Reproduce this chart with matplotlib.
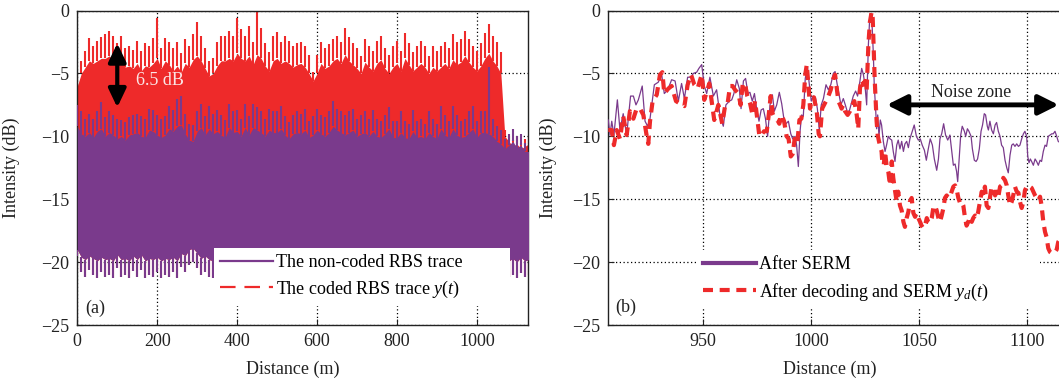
import numpy as np
import matplotlib
matplotlib.use("Agg")
import matplotlib.pyplot as plt
from matplotlib.lines import Line2D

plt.rcParams['font.family'] = ['Liberation Serif', 'DejaVu Serif']
plt.rcParams['mathtext.fontset'] = 'custom'
plt.rcParams['mathtext.rm'] = 'Liberation Serif'
plt.rcParams['mathtext.it'] = 'Liberation Serif:italic'
plt.rcParams['font.size'] = 13

PURPLE = '#7a3a8c'
RED = '#ee2a2a'

# ---- (a) raw RBS traces, read as envelopes every 10 m ----
dist_a = np.arange(0, 1131, 10)

# spike tops of the coded trace
coded_top = [
    -5.0, -4.0, -3.2, -2.2, -2.8, -2.4, -2.1, -1.9, -1.6, -2.0,
    -2.6, -2.0, -3.0, -2.8, -3.1, -2.4, -3.2, -2.6, -2.8, -2.2,
    -0.6, -3.0, -2.2, -2.5, -3.0, -2.5, -3.4, -2.3, -2.8, -1.9,
    -0.9, -2.0, -3.0, -4.0, -3.8, -2.5, -2.0, -2.0, -1.6, -2.0,
    -0.6, -1.5, -2.0, -1.2, -2.5, -0.1, -1.4, -2.6, -3.3, -2.0,
    -1.7, -2.5, -2.0, -2.4, -2.8, -2.6, -2.5, -2.8, -3.5, -4.9,
    -3.5, -2.5, -3.0, -2.7, -2.3, -2.0, -2.5, -1.4, -2.1, -2.6,
    -3.0, -3.6, -2.3, -2.8, -3.2, -2.4, -2.0, -3.0, -3.5, -2.8,
    -2.4, -3.2, -1.8, -2.6, -3.3, -2.8, -2.4, -2.8, -3.6, -2.8,
    -3.2, -2.8, -2.5, -3.0, -1.9, -2.5, -2.3, -1.6, -2.3, -2.8,
    -3.2, -2.6, -1.8, -1.1, -2.0, -2.5, -3.3, -9.5, -10.0, -10.3,
    -10.0, -10.5, -10.2, -10.0,
]
# level below which the coded trace looks solid
coded_base = [
    -6.0, -5.0, -4.5, -4.0, -4.2, -4.0, -3.8, -3.8, -3.6, -4.0,
    -4.2, -4.0, -4.5, -4.4, -4.6, -4.2, -4.8, -4.4, -4.5, -4.2,
    -3.8, -4.6, -4.0, -4.3, -4.8, -4.4, -4.9, -4.2, -4.5, -3.9,
    -3.6, -4.0, -4.6, -5.2, -5.0, -4.4, -4.0, -4.0, -3.8, -4.0,
    -3.4, -3.8, -4.0, -3.6, -4.3, -3.5, -3.8, -4.4, -4.8, -4.0,
    -3.8, -4.2, -4.0, -4.2, -4.5, -4.3, -4.2, -4.5, -5.0, -5.6,
    -5.0, -4.2, -4.6, -4.4, -4.0, -3.8, -4.2, -3.5, -4.0, -4.3,
    -4.6, -5.0, -4.1, -4.5, -4.8, -4.2, -3.9, -4.6, -5.0, -4.5,
    -4.2, -4.8, -3.8, -4.3, -4.8, -4.5, -4.2, -4.5, -5.0, -4.5,
    -4.8, -4.5, -4.2, -4.6, -3.9, -4.3, -4.1, -3.6, -4.1, -4.5,
    -4.8, -4.4, -3.8, -3.4, -4.0, -4.4, -5.0, -10.0, -10.4, -10.8,
    -10.6, -11.0, -10.8, -10.6,
]

noncoded_top = [
    -7.5, -8.0, -8.6, -8.2, -8.6, -8.0, -7.3, -8.5, -8.0, -8.3,
    -8.6, -8.7, -8.9, -8.5, -8.3, -8.2, -8.4, -8.6, -7.8, -7.9,
    -8.3, -8.6, -8.4, -7.6, -7.9, -7.0, -6.8, -8.2, -9.0, -9.1,
    -8.0, -7.4, -8.4, -7.6, -8.2, -7.9, -8.3, -8.7, -7.4, -8.0,
    -7.9, -8.6, -7.4, -8.4, -7.4, -7.7, -8.0, -8.6, -7.8, -8.0,
    -8.0, -7.6, -8.4, -8.9, -8.3, -8.0, -8.2, -7.8, -8.8, -8.4,
    -7.8, -8.3, -8.5, -8.0, -7.2, -7.8, -8.0, -8.3, -8.0, -7.8,
    -8.6, -8.3, -8.0, -8.6, -7.9, -8.6, -8.8, -8.3, -7.7, -8.8,
    -8.8, -8.0, -8.8, -9.0, -7.9, -8.8, -8.6, -9.0, -8.0, -8.6,
    -9.0, -7.6, -8.3, -8.8, -7.6, -8.3, -8.8, -8.6, -8.0, -7.6,
    -8.8, -8.0, -8.0, -4.5, -8.6, -9.2, -9.5, -10.2, -9.8, -9.4,
    -10.0, -9.8, -10.5, -10.5,
]
noncoded_base = [
    -9.2, -9.8, -10.0, -9.7, -10.1, -9.6, -9.4, -10.0, -9.7, -9.9,
    -10.2, -10.0, -10.3, -9.9, -9.8, -9.7, -10.0, -10.1, -9.5, -9.6,
    -9.9, -10.1, -9.9, -9.4, -9.6, -9.2, -9.1, -9.8, -10.3, -10.4,
    -9.6, -9.3, -9.9, -9.4, -9.8, -9.6, -9.9, -10.1, -9.3, -9.7,
    -9.6, -10.0, -9.3, -9.9, -9.3, -9.5, -9.7, -10.0, -9.5, -9.7,
    -9.7, -9.4, -9.9, -10.2, -9.8, -9.7, -9.8, -9.5, -10.1, -9.9,
    -9.5, -9.8, -10.0, -9.7, -9.2, -9.5, -9.7, -9.9, -9.7, -9.5,
    -10.0, -9.8, -9.7, -10.0, -9.6, -10.0, -10.1, -9.8, -9.4, -10.1,
    -10.1, -9.7, -10.1, -10.2, -9.6, -10.1, -10.0, -10.2, -9.7, -10.0,
    -10.2, -9.4, -9.9, -10.1, -9.4, -9.9, -10.1, -10.0, -9.7, -9.4,
    -10.1, -9.7, -9.7, -9.8, -10.0, -10.4, -10.6, -11.0, -10.7, -10.4,
    -10.9, -10.7, -11.2, -11.2,
]

# lower edge: solid level and the deepest dips
floor_solid = [
    -19.0, -19.6, -19.8, -19.5, -19.7, -19.9, -19.6, -19.8, -19.7, -19.9,
    -19.4, -19.8, -19.7, -19.9, -19.5, -19.8, -19.4, -19.9, -19.7, -19.8,
    -19.6, -19.9, -19.7, -19.8, -19.6, -19.9, -19.3, -19.5, -19.0, -18.9,
    -19.3, -19.7, -19.5, -19.8, -19.9, -19.8, -19.7, -19.8, -19.9, -19.7,
    -19.8, -19.7, -19.9, -19.8, -19.7, -19.8, -19.9, -19.8, -19.7, -19.8,
    -19.8, -19.7, -19.9, -19.8, -19.7, -19.8, -19.9, -19.8, -19.7, -19.8,
    -19.8, -19.7, -19.9, -19.8, -19.7, -19.8, -19.9, -19.8, -19.7, -19.8,
    -19.8, -19.7, -19.9, -19.8, -19.7, -19.8, -19.9, -19.8, -19.7, -19.8,
    -19.8, -19.7, -19.9, -19.8, -19.7, -19.8, -19.9, -19.8, -19.7, -19.8,
    -19.8, -19.7, -19.9, -19.8, -19.7, -19.8, -19.9, -19.8, -19.7, -19.8,
    -19.8, -19.7, -19.9, -19.8, -19.7, -19.8, -19.9, -19.8, -19.9, -19.7,
    -20.0, -19.6, -19.9, -19.8,
]
noise_floor = [
    -19.5, -20.8, -21.2, -20.6, -21.0, -21.3, -20.8, -21.2, -21.0, -21.3,
    -20.5, -21.2, -21.0, -21.3, -20.7, -21.2, -20.6, -21.3, -21.0, -21.2,
    -20.8, -21.3, -21.0, -21.2, -20.8, -21.3, -20.4, -20.8, -20.2, -20.0,
    -20.5, -21.0, -20.8, -21.2, -21.3, -21.0, -21.1, -20.9, -21.0, -21.2,
    -21.0, -20.9, -21.1, -21.0, -21.2, -21.0, -20.9, -21.1, -21.0, -21.2,
    -21.0, -20.9, -21.1, -21.0, -21.2, -21.0, -20.9, -21.1, -21.0, -21.2,
    -21.0, -20.9, -21.1, -21.0, -21.2, -21.0, -20.9, -21.1, -21.0, -21.2,
    -21.0, -20.9, -21.1, -21.0, -21.2, -21.0, -20.9, -21.1, -21.0, -21.2,
    -21.0, -20.9, -21.1, -21.0, -21.2, -21.0, -20.9, -21.1, -21.0, -21.2,
    -21.0, -20.9, -21.1, -21.0, -21.2, -21.0, -20.9, -21.1, -21.0, -21.2,
    -21.0, -20.9, -21.1, -21.0, -21.2, -21.0, -20.9, -21.1, -21.2, -21.0,
    -21.3, -20.9, -21.2, -21.0,
]

# ---- (b) zoom on fibre end, after SERM ----
serm_x = [
    906.3, 907.1, 907.9, 908.9, 910.5, 911.7, 913.2, 914.8, 916.6, 917.9,
    919.1, 920.2, 922.0, 923.3, 924.5, 925.6, 927.6, 929.4, 931.0, 932.2,
    933.8, 935.6, 937.2, 938.7, 940.2, 941.5, 943.0, 944.6, 945.6, 947.2,
    948.2, 949.5, 950.7, 951.8, 953.3, 954.9, 956.4, 958.0,
    959.5, 960.7, 962.3, 963.4, 964.4, 965.7, 966.9, 967.7, 968.8, 969.8,
    970.9, 971.8, 972.9, 973.9, 974.9, 976.0, 977.0, 978.0, 979.0, 980.0,
    981.1, 982.2, 983.1, 984.2, 985.4, 986.5, 987.6, 988.5, 989.6, 990.7,
    991.6, 992.7, 993.4, 994.2, 995.0, 995.7, 996.5, 997.4, 998.4, 999.3,
    1000.2, 1001.1, 1002.1, 1003.0, 1003.9, 1004.8, 1005.8, 1007.0, 1008.1, 1009.2,
    1010.4, 1011.2, 1012.2,
    1013.9, 1015.0, 1016.1, 1017.3, 1018.5, 1019.6, 1020.7, 1021.6, 1022.7, 1023.5,
    1024.3, 1025.0, 1025.8, 1026.6, 1027.3, 1028.1, 1028.9, 1029.3, 1030.0, 1030.4,
    1030.9, 1031.5, 1032.1, 1032.7, 1033.5, 1034.3, 1035.0, 1035.8, 1036.6, 1037.4,
    1038.1, 1038.9, 1039.7, 1040.4, 1041.2, 1042.0, 1042.8, 1043.5, 1044.3, 1045.1,
    1045.8, 1046.9, 1047.8, 1048.8, 1049.7, 1050.6, 1051.5, 1052.5, 1053.4, 1054.3,
    1055.2, 1056.2, 1057.1, 1058.2, 1059.0, 1059.7, 1060.5, 1061.4, 1062.3, 1063.3,
    1064.3, 1065.1, 1065.9, 1066.7, 1067.4, 1067.9, 1068.5, 1069.3, 1070.0, 1071.0,
    1071.6, 1072.4, 1073.1, 1074.1, 1074.7, 1075.6, 1076.4, 1077.1, 1077.9, 1078.7,
    1079.4, 1080.2, 1080.8, 1081.6, 1082.1, 1082.8, 1083.6, 1084.4, 1085.2, 1085.9,
    1086.7, 1087.5, 1088.2, 1089.0, 1089.8, 1090.6, 1091.3, 1092.1, 1092.9, 1093.6,
    1094.4, 1095.2, 1096.0, 1096.7, 1097.5, 1098.3, 1099.0, 1099.8, 1100.3, 1100.9,
    1101.5, 1102.1, 1102.9, 1103.7, 1104.4, 1105.2, 1106.0, 1106.7, 1107.5, 1108.3,
    1109.0, 1109.8, 1110.6, 1111.4, 1112.1, 1112.9, 1113.7, 1114.4, 1116.0, 1118.0,
]
serm_db = [
    -8.7, -9.9, -8.8, -9.9, -7.1, -9.5, -8.2, -9.9, -6.8, -6.8,
    -7.5, -7.1, -6.0, -8.8, -9.2, -8.6, -5.9, -5.7, -5.1, -6.6,
    -6.3, -5.5, -5.6, -7.2, -5.8, -7.0, -5.3, -5.3, -5.0, -4.9,
    -4.6, -4.3, -6.0, -6.6, -5.3, -6.8, -6.3, -8.4,
    -9.2, -7.5, -7.2, -7.1, -6.6, -5.5, -6.2, -7.8, -5.6, -5.4,
    -6.6, -6.5, -7.2, -6.6, -7.8, -8.8, -7.9, -7.8, -8.6, -10.0,
    -7.5, -6.7, -8.0, -7.5, -6.5, -7.4, -8.7, -9.0, -8.8, -9.8,
    -10.2, -10.0, -10.7, -12.4, -9.6, -8.3, -8.4, -5.4, -4.5, -5.9,
    -7.2, -6.8, -6.9, -7.8, -9.5, -7.5, -7.0, -5.9, -6.3, -5.9,
    -5.0, -4.85, -5.9,
    -7.5, -7.0, -7.6, -8.3, -7.5, -6.8, -6.4, -6.8, -5.6, -4.6,
    -5.1, -5.9, -7.5, -2.7, -0.3, -0.3, -3.5, -5.9, -8.0, -9.4,
    -8.3, -10.0, -8.7, -9.1, -10.4, -11.2, -10.7, -10.0, -10.2, -10.3,
    -11.2, -12.0, -10.7, -10.3, -11.0, -10.4, -11.2, -10.6, -10.4, -10.9,
    -10.2, -9.6, -9.1, -10.0, -10.3, -10.2, -10.7, -11.1, -11.9, -11.0,
    -10.2, -10.7, -11.8, -12.7, -11.8, -10.2, -9.8, -9.0, -9.9, -10.3,
    -9.9, -11.1, -12.3, -12.2, -12.8, -13.6, -12.0, -9.9, -9.2, -9.6,
    -10.0, -9.4, -9.6, -10.0, -11.0, -11.9, -12.0, -11.8, -11.0, -9.6,
    -9.1, -8.2, -8.3, -9.2, -9.5, -8.8, -9.5, -9.8, -9.1, -8.9,
    -9.6, -10.0, -10.7, -10.9, -11.9, -12.5, -12.9, -11.5, -10.7, -10.6,
    -10.8, -10.6, -10.8, -10.7, -10.2, -9.8, -9.6, -10.0, -11.6, -12.1,
    -11.8, -12.0, -12.3, -11.8, -12.0, -12.3, -11.9, -12.0, -11.2, -10.7,
    -10.8, -10.0, -9.9, -9.8, -9.8, -9.6, -10.0, -10.4, -10.6, -10.9,
]

dec_x = [
    906.3, 907.9, 908.9, 910.2, 911.7, 913.2, 914.8, 916.3, 917.9, 919.4,
    921.0, 922.5, 924.0, 924.8, 925.6, 926.8, 928.7, 930.2, 931.3, 932.2,
    934.1, 935.6, 937.6, 939.5, 941.5, 943.0, 944.6, 946.1, 947.6, 949.5,
    950.7, 951.8, 953.0, 954.1, 955.3, 957.2, 959.0,
    960.3, 961.4, 962.6, 963.8, 964.9, 966.5, 967.5, 968.5, 969.5, 970.6,
    971.9, 973.0, 974.2, 975.2, 976.2, 977.2, 978.3, 979.6, 980.5, 981.4,
    982.3, 983.4, 984.5, 985.4, 986.5, 987.6, 988.8, 989.7, 990.7, 991.6,
    992.5, 993.7, 994.7, 995.6, 996.5, 997.4, 998.1, 999.0, 999.6, 1000.5,
    1001.4, 1002.7, 1003.6, 1004.2, 1005.2, 1006.1, 1007.0, 1008.1, 1009.2, 1010.4,
    1011.2,
    1012.7, 1013.5, 1014.2, 1015.0, 1015.8, 1017.0, 1018.1, 1019.2, 1020.1, 1021.2,
    1021.9, 1022.7, 1023.5, 1024.3, 1025.0, 1025.8, 1026.6, 1027.3, 1028.1, 1028.6,
    1029.0, 1029.5, 1030.0, 1030.4, 1030.9, 1031.5, 1032.3, 1032.7, 1033.0, 1033.7,
    1034.3, 1035.0, 1035.8, 1036.6, 1037.4, 1038.1, 1038.9, 1039.7, 1040.4, 1041.2,
    1042.0, 1042.8, 1043.5, 1044.3, 1045.1, 1045.8, 1046.6, 1047.4, 1048.2, 1048.9,
    1049.7, 1050.5, 1051.2, 1052.0, 1052.8, 1053.6, 1054.3, 1055.1, 1055.9, 1056.6,
    1057.4, 1058.2, 1059.0, 1059.7, 1060.5, 1061.3, 1062.0,
    1062.8, 1063.6, 1064.3, 1065.1, 1065.9, 1066.7, 1067.4, 1068.2, 1069.0, 1069.7,
    1070.5, 1071.3, 1072.0, 1072.8, 1073.6, 1074.4, 1075.1, 1075.9, 1076.7, 1077.4,
    1078.2, 1079.0, 1079.8, 1080.5, 1081.3, 1082.1, 1082.8, 1083.6, 1084.4, 1085.2,
    1085.9, 1086.7, 1087.5, 1088.2, 1089.0, 1089.8, 1090.6, 1091.3, 1092.1, 1092.9,
    1093.6, 1094.4, 1095.2, 1096.0, 1096.7, 1097.5, 1098.3, 1099.0, 1099.8, 1100.6,
    1101.3, 1102.1, 1102.9, 1103.7, 1104.4, 1105.2, 1106.0, 1106.7, 1107.5, 1108.3,
    1109.0, 1109.8, 1110.6, 1111.4, 1112.1, 1112.9, 1113.7, 1114.4, 1116.0, 1118.0,
]
dec_db = [
    -9.5, -9.5, -10.7, -9.5, -10.2, -8.4, -9.9, -8.0, -8.6, -7.8,
    -7.8, -8.3, -9.9, -10.6, -8.8, -7.2, -6.7, -5.1, -4.9, -6.6,
    -6.2, -6.0, -7.2, -7.4, -7.6, -5.9, -5.1, -5.9, -6.2, -5.1,
    -7.1, -6.5, -5.8, -7.2, -8.7, -7.5, -9.0,
    -7.6, -7.5, -6.0, -6.0, -6.3, -6.6, -7.5, -5.8, -5.8, -6.8,
    -7.4, -8.3, -7.2, -8.6, -10.0, -9.9, -9.6, -9.6, -8.3, -6.8,
    -8.2, -8.6, -8.7, -9.0, -8.3, -8.8, -10.0, -10.2, -11.6, -11.4,
    -10.2, -10.6, -8.7, -8.6, -7.5, -5.1, -4.3, -6.2, -7.8, -7.0,
    -6.9, -8.0, -9.8, -10.0, -7.8, -7.5, -7.2, -6.8, -6.3, -5.4,
    -5.1,
    -7.2, -7.5, -7.8, -7.5, -8.0, -8.3, -8.0, -7.5, -7.2, -8.3,
    -9.4, -6.2, -5.5, -5.9, -5.6, -6.3, -2.7, -0.9, -0.1, -0.6,
    -2.7, -5.4, -7.2, -8.8, -9.9, -10.4, -11.0, -11.2, -12.0, -12.3,
    -11.2, -12.3, -12.8, -13.9, -12.0, -13.3, -14.3, -15.2, -14.4, -15.5,
    -15.9, -16.8, -17.2, -16.5, -16.0, -15.2, -14.9, -16.1, -16.4, -16.1,
    -16.5, -16.8, -17.1, -17.3, -17.1, -16.5, -16.8, -16.9, -16.5, -15.7,
    -15.5, -15.9, -16.5, -16.8, -16.3, -15.7, -14.9,
    -14.7, -14.9, -14.8, -14.4, -14.0, -13.9, -14.2, -14.9, -15.3, -15.2,
    -15.5, -16.5, -17.1, -16.8, -16.4, -16.8, -16.5, -16.3, -16.5, -16.0,
    -15.2, -14.4, -14.7, -14.0, -15.5, -15.7, -14.9, -14.0, -14.3, -14.7,
    -14.4, -14.8, -14.0, -13.9, -13.3, -13.5, -13.9, -14.7, -15.5, -15.2,
    -14.7, -14.0, -14.4, -14.5, -15.2, -15.7, -15.2, -14.3, -14.0, -13.9,
    -14.0, -14.1, -14.4, -14.7, -14.9, -15.1, -14.8, -15.5, -16.8, -17.6,
    -18.0, -18.9, -19.2, -19.3, -19.3, -19.2, -19.0, -18.4, -18.0, -17.5,
]

yticks = [0, -5, -10, -15, -20, -25]
TXT = '#222222'


def style_axes(ax, xticks):
    ax.set_ylim(-25, 0)
    ax.set_yticks(yticks)
    ax.set_xticks(xticks)
    ax.grid(True, color='black', linestyle=(0, (1, 2)), linewidth=0.9)
    ax.set_axisbelow(True)
    ax.tick_params(direction='in', length=4, width=0.8, pad=6, labelsize=13,
                   colors=TXT)
    for sp in ax.spines.values():
        sp.set_linewidth(1.0)
        sp.set_color(TXT)
    ax.set_ylabel('Intensity (dB)', fontsize=13, color=TXT)
    ax.set_xlabel('Distance (m)', fontsize=13, color=TXT)


def noisy_band(ax, base, top, color, z):
    # solid body plus thin spikes up to the peaks and down to the dips
    ax.fill_between(dist_a, floor_solid, base, color=color, lw=0, zorder=z)
    ax.vlines(dist_a, base, top, color=color, lw=1.5, zorder=z)
    ax.vlines(dist_a, noise_floor, floor_solid, color=color, lw=1.5, zorder=z)


fig = plt.figure(figsize=(10.59, 3.83), dpi=100)

# ---------------- panel (a) ----------------
ax1 = fig.add_axes([0.0730, 0.1514, 0.4256, 0.8211])
noisy_band(ax1, coded_base, coded_top, RED, 2)
noisy_band(ax1, noncoded_base, noncoded_top, PURPLE, 3)
ax1.set_xlim(0, 1128)
style_axes(ax1, [0, 200, 400, 600, 800, 1000])
ax1.yaxis.set_label_coords(-0.128, 0.5)
ax1.xaxis.set_label_coords(0.477, -0.115)

ax1.annotate('', xy=(100, -2.6), xytext=(100, -7.7),
             arrowprops=dict(arrowstyle='<|-|>,head_length=0.8,head_width=0.38',
                             mutation_scale=14, lw=3, color='black',
                             shrinkA=0, shrinkB=0), zorder=6)
ax1.text(148, -5.6, '6.5 dB', color='#fbe6e6', fontsize=13, ha='left',
         va='center', zorder=6)
ax1.text(19, -23.7, '(a)', fontsize=13, ha='left', va='center', color=TXT)

h_a = [Line2D([], [], color=PURPLE, lw=1.6),
       Line2D([], [], color=RED, lw=1.6, linestyle=(0, (7, 4)))]
leg1 = ax1.legend(h_a, ['The non-coded RBS trace', 'The coded RBS trace $y(t)$'],
                  loc='upper left', bbox_to_anchor=(214 / 1059, 1 - 248 / 383,
                                                    296 / 1059, 0),
                  bbox_transform=fig.transFigure, mode='expand', fontsize=13,
                  frameon=True, fancybox=False, edgecolor='none', facecolor='white',
                  framealpha=1, borderpad=0.35, borderaxespad=0, handlelength=2.9,
                  handletextpad=0.2, labelspacing=0.4)
leg1.set_zorder(7)

# ---------------- panel (b) ----------------
ax2 = fig.add_axes([0.5744, 0.1514, 0.4363, 0.8211])
ax2.plot(serm_x, serm_db, color=PURPLE, lw=0.9, zorder=3)
ax2.plot(dec_x, dec_db, color=RED, lw=3, linestyle=(0, (2.4, 1.6)), zorder=4)
ax2.set_xlim(906.3, 1120)
style_axes(ax2, [950, 1000, 1050, 1100])
ax2.yaxis.set_label_coords(-0.111, 0.5)
ax2.xaxis.set_label_coords(0.48, -0.115)

ax2.annotate('', xy=(1114.6, -7.5), xytext=(1035.1, -7.5),
             arrowprops=dict(arrowstyle='<|-|>,head_length=0.8,head_width=0.4',
                             mutation_scale=15, lw=3.5, color='black',
                             shrinkA=0, shrinkB=0), zorder=6)
ax2.text(1074, -6.5, 'Noise zone', fontsize=13, ha='center', va='center',
         color=TXT)
ax2.text(909.4, -23.6, '(b)', fontsize=13, ha='left', va='center', color=TXT)

h_b = [Line2D([], [], color=PURPLE, lw=3),
       Line2D([], [], color=RED, lw=3, linestyle=(0, (2.4, 1.6)))]
leg2 = ax2.legend(h_b, ['After SERM', 'After decoding and SERM $y_d(t)$'],
                  loc='upper left', bbox_to_anchor=(697 / 1059, 1 - 250 / 383,
                                                    343 / 1059, 0),
                  bbox_transform=fig.transFigure, mode='expand', fontsize=13,
                  frameon=True, fancybox=False, edgecolor='none', facecolor='white',
                  framealpha=1, borderpad=0.35, borderaxespad=0, handlelength=2.9,
                  handletextpad=0.2, labelspacing=0.45)
leg2.set_zorder(7)

fig.savefig('out.png', dpi=100)
